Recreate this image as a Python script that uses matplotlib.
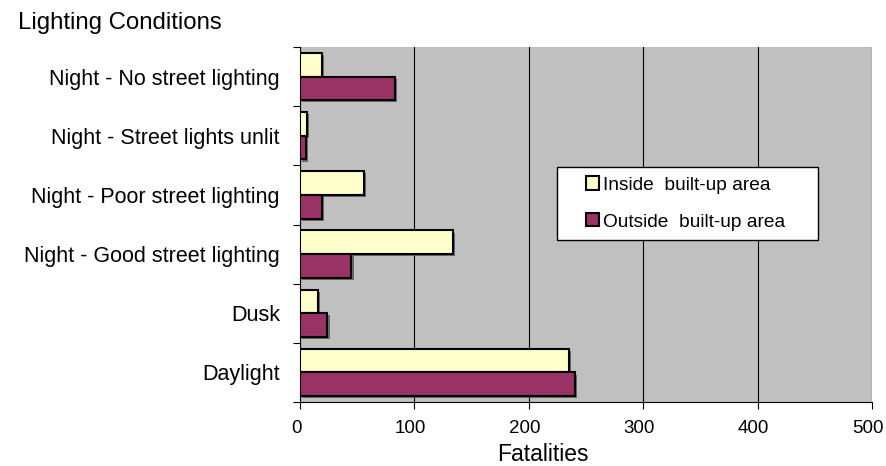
import numpy as np
import matplotlib.pyplot as plt
import matplotlib.patheffects as pe
import matplotlib.patches as mpatches
import matplotlib.transforms as mtrans
from matplotlib.container import BarContainer
from matplotlib.legend_handler import HandlerPatch, update_from_first_child

plt.rcParams['font.family'] = ['Liberation Sans', 'DejaVu Sans']

categories = ['Daylight', 'Dusk', 'Night - Good street lighting',
              'Night - Poor street lighting', 'Night - Street lights unlit',
              'Night - No street lighting']
inside = [235, 16, 134, 56, 6, 19]
outside = [240, 24, 45, 19, 5, 83]
series_names = ['Inside  built-up area', 'Outside  built-up area']

W, H = 886, 466
fig = plt.figure(figsize=(W / 100, H / 100), dpi=100)
ax = fig.add_axes([300/W, 1 - 402/H, 572/W, 355/H])
ax.set_facecolor('#C0C0C0')

y = np.arange(len(categories))
h = 0.4
shadow = [pe.SimplePatchShadow(offset=(1.5, -1.5), shadow_rgbFace='#555555', alpha=0.8), pe.Normal()]
b1 = ax.barh(y + h/2, inside, height=h, color='#FFFFCC', edgecolor='black', linewidth=1.5,
             label=series_names[0], zorder=3)
b2 = ax.barh(y - h/2, outside, height=h, color='#993366', edgecolor='black', linewidth=1.5,
             label=series_names[1], zorder=3)
for b in list(b1) + list(b2):
    b.set_path_effects(shadow)

ax.set_xlim(0, 500)
ax.set_ylim(-0.5, len(categories) - 0.5)
ax.set_xticks(range(0, 501, 100))
ax.xaxis.grid(True, color='black', linewidth=0.8, zorder=1)
ax.set_axisbelow(True)

# category boundaries get the ticks, labels sit in the middle
ax.set_yticks(np.arange(-0.5, len(categories), 1.0))
ax.set_yticklabels([])
ax.set_yticks(y, minor=True)
ax.set_yticklabels(categories, minor=True, fontsize=15.5)
ax.tick_params(axis='y', which='minor', length=0, pad=14.5)
ax.tick_params(axis='y', which='major', length=5, direction='out')
ax.tick_params(axis='x', length=5, labelsize=13.5, pad=8)
shift = mtrans.ScaledTranslation(-4/100, 0, fig.dpi_scale_trans)
for lab in ax.get_xticklabels():
    lab.set_transform(lab.get_transform() + shift)

for s in ['top', 'right']:
    ax.spines[s].set_visible(False)

fig.text(543/W, 1 - 461/H, 'Fatalities', fontsize=16.5, ha='center', va='baseline')
fig.text(18/W, 1 - 23/H, 'Lighting Conditions', fontsize=17.3, va='center', ha='left')


def small_square(legend, orig_handle, xdescent, ydescent, width, height, fontsize):
    side = 0.68 * fontsize
    return mpatches.Rectangle((width - side - xdescent, (height - side) / 2 - ydescent), side, side)


x0, x1 = (557 - 300) / 572, (818 - 300) / 572
leg = ax.legend(loc='upper left', bbox_to_anchor=(x0, (402 - 167) / 355 - 0.01, x1 - x0, 0.01),
                mode='expand', fontsize=13.8, frameon=True, fancybox=False,
                edgecolor='black', facecolor='white', framealpha=1,
                handlelength=1.72, handleheight=0.7, handletextpad=0.2,
                borderpad=0.485, labelspacing=1.02, borderaxespad=0,
                handler_map={BarContainer: HandlerPatch(patch_func=small_square,
                                                        update_func=update_from_first_child)})
leg.get_frame().set_linewidth(1.0)
for p in leg.get_patches():
    p.set_linewidth(1.5)
    p.set_path_effects([])

fig.savefig('out.png', dpi=100)
